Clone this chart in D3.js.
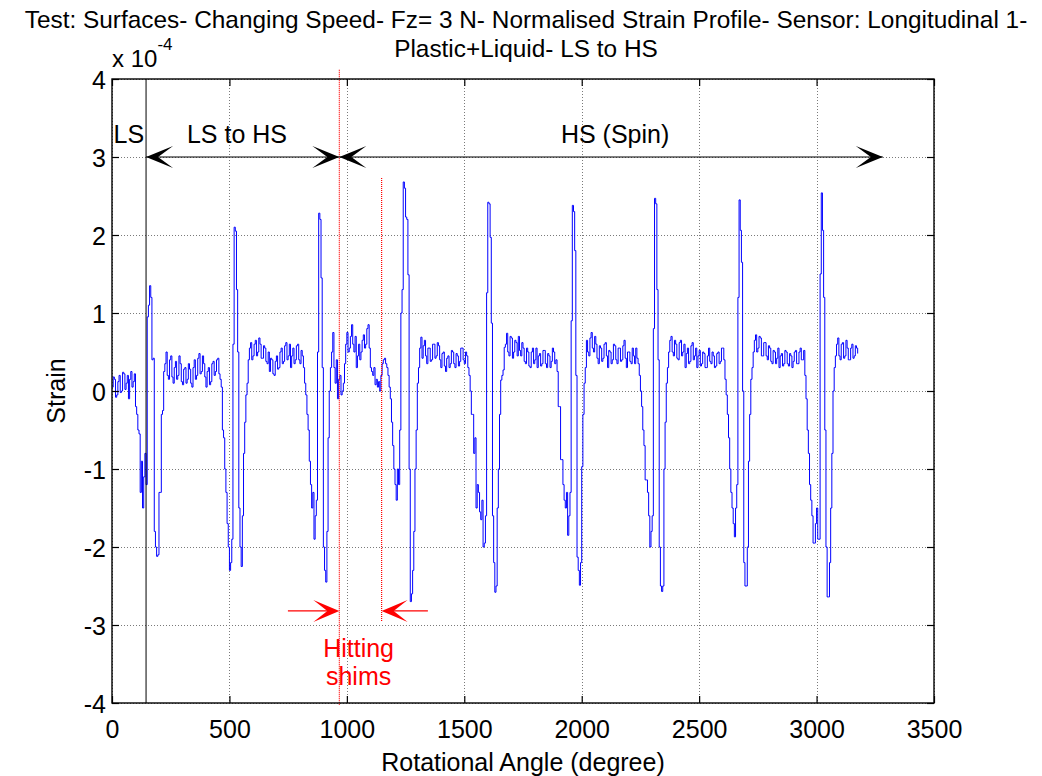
<!DOCTYPE html>
<html>
<head>
<meta charset="utf-8">
<script src="https://cdn.jsdelivr.net/npm/d3@7"></script>
<style>
  html, body { margin: 0; padding: 0; background: #fff; }
  svg { display: block; font-family: "Liberation Sans", Arial, sans-serif; }
</style>
</head>
<body>
<svg id="chart" width="1042" height="776"></svg>
<script>
// Sensor strain samples (x 10^-4), one every 5 degrees of rotation (one row = 100 degrees)
const sampleStepDeg = 5;
const strainValues = [
  0.05,0.18, 0.15,-0.08, -0.05,0.12, 0.2,-0.02, 0.0,0.24, 0.22,0.02, 0.1,0.2, -0.1,0.15, 0.25,0.05, 0.12,0.22,
  -0.2,-0.3, -0.5,-0.55, -1.3,-0.9, -1.5,-1.1, -0.8,-1.2, 0.95,1.1, 1.35,1.2, 0.4,0.42, -1.8,-2.0, -2.12,-2.1,
  -1.3,-1.3, -0.3,-0.25, 0.25,0.35, 0.5,0.2, 0.15,0.4, 0.45,0.18, 0.1,0.3, 0.38,0.15, 0.2,0.45, 0.35,0.12,
  0.08,0.28, 0.3,0.1, 0.15,0.35, 0.28,0.1, 0.05,0.3, 0.4,0.15, 0.2,0.42, 0.48,0.22, 0.25,0.45, 0.35,0.18,
  0.05,0.25, 0.3,0.08, 0.12,0.35, 0.38,0.2, 0.25,0.4, 0.42,0.22, 0.15,0.05, -0.5,-0.6, -1.0,-1.3, -1.7,-2.0,
  -2.3,-2.2, -1.9,0.6, 2.1,2.05, 1.3,0.5, -1.5,-2.0, -2.25,-1.6, -0.8,-0.4, -0.05,0.1, 0.4,0.55, 0.62,0.4,
  0.45,0.6, 0.65,0.45, 0.5,0.68, 0.6,0.42, 0.42,0.58, 0.55,0.38, 0.35,0.5, 0.25,0.42, 0.4,0.22, 0.2,0.38,
  0.45,0.28, 0.3,0.5, 0.55,0.35, 0.38,0.58, 0.62,0.4, 0.45,0.6, 0.3,0.45, 0.55,0.35, 0.4,0.58, 0.6,0.4,
  0.35,0.52, 0.45,0.3, 0.1,-0.05, -0.3,-0.5, -0.9,-1.2, -1.5,-1.3, -1.9,-1.6, -1.4,0.5, 2.28,2.2, 1.45,0.3,
  -2.0,-2.3, -2.45,-1.8, -0.6,0.0, 0.3,0.5, 0.75,0.3, 0.1,0.4, -0.1,0.15, 0.2,-0.05, 0.0,0.1, 0.35,0.6,
  0.75,0.5, 0.55,0.7, 0.85,0.6, 0.5,0.7, 0.3,0.45, 0.6,0.4, 0.5,0.65, 0.72,0.55, 0.6,0.8, 0.85,0.55,
  0.3,0.25, 0.2,0.3, 0.08,0.15, 0.05,0.12, 0.0,0.2, 0.35,0.4, 0.42,0.35, 0.3,0.2, 0.05,-0.1, -0.4,-0.7,
  -1.0,-1.2, -1.4,-1.0, -1.2,-0.5, 1.0,1.3, 2.68,2.6, 2.23,2.2, 1.49,-1.0, -2.7,-2.6, -2.3,-1.8, -1.0,-0.5,
  0.1,0.3, 0.55,0.69, 0.42,0.58, 0.65,0.45, 0.35,0.55, 0.55,0.38, 0.4,0.6, 0.6,0.42, 0.45,0.62, 0.58,0.4,
  0.3,0.48, 0.5,0.32, 0.25,0.42, 0.45,0.3, 0.35,0.52, 0.5,0.35, 0.3,0.48, 0.45,0.32, 0.38,0.55, 0.55,0.4,
  0.35,0.5, 0.45,0.3, 0.2,0.0, -0.3,-0.3, -0.8,-0.6, -1.5,-1.2, -1.3,-1.55, -1.65,-1.4, -2.0,-1.95, -1.6,1.26,
  2.42,2.4, 1.97,0.87, -1.6,-2.2, -2.58,-2.5, -1.5,-1.0, -0.3,0.14, 0.2,0.27, 0.56,0.6, 0.74,0.5, 0.45,0.7,
  0.68,0.42, 0.5,0.65, 0.62,0.45, 0.7,0.52, 0.45,0.62, 0.55,0.38, 0.35,0.55, 0.5,0.32, 0.3,0.5, 0.55,0.35,
  0.4,0.55, 0.3,0.45, 0.48,0.32, 0.35,0.52, 0.52,0.35, 0.3,0.48, 0.45,0.3, 0.38,0.55, 0.5,0.35, 0.4,0.25,
  -0.2,-0.2, -0.88,-0.88, -1.2,-1.4, -1.5,-1.3, -1.85,-1.6, -1.3,0.9, 2.38,2.3, 1.8,0.2, -2.13,-2.3, -2.49,-2.2,
  -0.97,-0.3, 0.1,0.3, 0.65,0.5, 0.45,0.68, 0.75,0.55, 0.5,0.7, 0.6,0.42, 0.35,0.58, 0.55,0.38, 0.42,0.6,
  0.62,0.45, 0.3,0.52, 0.5,0.35, 0.4,0.6, 0.58,0.4, 0.35,0.55, 0.55,0.38, 0.4,0.58, 0.65,0.42, 0.3,0.5,
  0.5,0.38, 0.35,0.55, 0.45,0.35, 0.55,0.42, 0.35,0.2, 0.0,-0.2, -0.5,-0.7, -1.14,-1.14, -1.3,-1.6, -2.0,-1.8,
  -1.6,0.8, 2.47,2.4, 1.3,0.4, -2.0,-2.5, -2.57,-2.5, -1.0,-0.4, 0.1,0.3, 0.5,0.65, 0.7,0.5, 0.45,0.65,
  0.6,0.42, 0.4,0.62, 0.65,0.45, 0.5,0.6, 0.3,0.48, 0.55,0.35, 0.38,0.58, 0.62,0.4, 0.45,0.55, 0.3,0.45,
  0.52,0.32, 0.35,0.5, 0.48,0.3, 0.3,0.45, 0.55,0.38, 0.35,0.5, 0.45,0.3, 0.32,0.48, 0.5,0.35, 0.38,0.55,
  0.55,0.4, 0.15,-0.05, -0.3,-0.6, -1.0,-1.3, -1.5,-1.7, -1.87,-1.5, -1.2,1.2, 2.45,2.06, 1.65,0.0, -2.2,-2.5,
  -2.5,-2.0, -0.9,-0.3, 0.15,0.3, 0.5,0.65, 0.72,0.5, 0.55,0.7, 0.68,0.45, 0.45,0.62, 0.62,0.45, 0.4,0.58,
  0.55,0.38, 0.35,0.52, 0.5,0.35, 0.42,0.55, 0.3,0.45, 0.48,0.32, 0.35,0.52, 0.5,0.35, 0.32,0.48, 0.45,0.3,
  0.38,0.5, 0.52,0.35, 0.35,0.5, 0.55,0.4, 0.4,0.52, 0.2,-0.1, -0.5,-0.8, -1.2,-1.4, -1.6,-1.95, -1.95,-1.7,
  -1.5,-1.9, -1.9,1.5, 2.54,2.06, 1.2,-0.5, -2.0,-2.64, -2.64,-2.2, -1.5,-0.8, 0.0,0.3, 0.45,0.6, 0.68,0.45,
  0.4,0.6, 0.62,0.42, 0.45,0.65, 0.55,0.4, 0.4,0.55, 0.6,0.42, 0.45,0.58, 0.55,0.48
];

// Axis ticks
const xTicks = [0, 500, 1000, 1500, 2000, 2500, 3000, 3500];
const yTicks = [-4, -3, -2, -1, 0, 1, 2, 3, 4];

// Phase markers and annotations (data units)
const phaseBoundaryAngle = 145;          // end of low speed
const shimStartAngle = 968;              // red marker 1
const shimEndAngle = 1148;               // red marker 2
const phaseArrowLevel = 3;
const phaseArrows = [
  { from: phaseBoundaryAngle, to: shimStartAngle },
  { from: shimStartAngle, to: 3282 }
];
const phaseLabels = [
  { text: "LS", angle: 72, level: 3.18 },
  { text: "LS to HS", angle: 532, level: 3.18 },
  { text: "HS (Spin)", angle: 2142, level: 3.18 }
];
const shimArrowLevel = -2.82;
const shimArrows = [
  { from: 749, to: shimStartAngle },
  { from: 1345, to: shimEndAngle }
];
const shimLabel = { lines: ["Hitting", "shims"], angle: 1050, levels: [-3.41, -3.77] };

const titleLines = [
  "Test: Surfaces- Changing Speed- Fz= 3 N- Normalised Strain Profile- Sensor: Longitudinal 1-",
  "Plastic+Liquid- LS to HS"
];

const svg = d3.select("#chart");
const plotLeft = 112, plotRight = 934, plotTop = 79, plotBottom = 703;
const x = d3.scaleLinear().domain([0, 3500]).range([plotLeft, plotRight]);
const y = d3.scaleLinear().domain([-4, 4]).range([plotBottom, plotTop]);
const fontSize = 25;
const plainNumber = d => String(d);

// Grid
const grid = svg.append("g").attr("stroke", "#7a7a7a").attr("stroke-width", 1)
  .attr("stroke-dasharray", "1,2").attr("shape-rendering", "crispEdges");
grid.selectAll("line.gx").data(xTicks).join("line").attr("class", "gx")
  .attr("x1", d => Math.round(x(d)) + 0.5).attr("x2", d => Math.round(x(d)) + 0.5)
  .attr("y1", plotTop).attr("y2", plotBottom);
grid.selectAll("line.gy").data(yTicks).join("line").attr("class", "gy")
  .attr("y1", d => Math.round(y(d)) + 0.5).attr("y2", d => Math.round(y(d)) + 0.5)
  .attr("x1", plotLeft).attr("x2", plotRight);

// Strain trace
const samples = strainValues.map((v, i) => ({ angle: i * sampleStepDeg, value: v }));
const line = d3.line().x(d => x(d.angle)).y(d => y(d.value)).curve(d3.curveStepAfter);
svg.append("path").datum(samples)
  .attr("fill", "none").attr("stroke", "#0000ff").attr("stroke-width", 1)
  .attr("d", line);

// Low-speed boundary marker
svg.append("line")
  .attr("x1", x(phaseBoundaryAngle)).attr("x2", x(phaseBoundaryAngle))
  .attr("y1", plotTop).attr("y2", plotBottom)
  .attr("stroke", "#000").attr("stroke-width", 1);

// Shim markers
svg.append("line")
  .attr("x1", x(shimStartAngle)).attr("x2", x(shimStartAngle))
  .attr("y1", y(4.12)).attr("y2", y(-4.03))
  .attr("stroke", "#ff0000").attr("stroke-width", 1.2).attr("stroke-dasharray", "1,1");
svg.append("line")
  .attr("x1", x(shimEndAngle)).attr("x2", x(shimEndAngle))
  .attr("y1", y(2.73)).attr("y2", y(-2.96))
  .attr("stroke", "#ff0000").attr("stroke-width", 1.2).attr("stroke-dasharray", "1,1");

// Arrow head with a notched back, tip at (tx, ty), pointing along dir (+1 right, -1 left)
function arrowHead(tx, ty, dir, len, half, notch) {
  return `M${tx},${ty} L${tx - dir * len},${ty - half} L${tx - dir * notch},${ty} L${tx - dir * len},${ty + half} Z`;
}

// Phase arrows (double-headed)
const pa = svg.append("g");
phaseArrows.forEach(a => {
  const x1 = x(a.from), x2 = x(a.to), yy = y(phaseArrowLevel);
  pa.append("line").attr("x1", x1).attr("x2", x2).attr("y1", yy).attr("y2", yy)
    .attr("stroke", "#000").attr("stroke-width", 1.2);
  pa.append("path").attr("d", arrowHead(x1, yy, -1, 27, 11, 12)).attr("fill", "#000");
  pa.append("path").attr("d", arrowHead(x2, yy, 1, 27, 11, 12)).attr("fill", "#000");
});
svg.selectAll("text.phase").data(phaseLabels).join("text").attr("class", "phase")
  .attr("x", d => x(d.angle)).attr("y", d => y(d.level))
  .attr("text-anchor", "middle").attr("font-size", 25).attr("fill", "#000")
  .text(d => d.text);

// Shim arrows
const sa = svg.append("g");
shimArrows.forEach(a => {
  const x1 = x(a.from), x2 = x(a.to), yy = y(shimArrowLevel);
  const dir = x2 > x1 ? 1 : -1;
  sa.append("line").attr("x1", x1).attr("x2", x2 - dir * 10).attr("y1", yy).attr("y2", yy)
    .attr("stroke", "#ff0000").attr("stroke-width", 1.2);
  sa.append("path").attr("d", arrowHead(x2, yy, dir, 26, 11, 12)).attr("fill", "#ff0000");
});
svg.selectAll("text.shim").data(shimLabel.lines).join("text").attr("class", "shim")
  .attr("x", x(shimLabel.angle)).attr("y", (d, i) => y(shimLabel.levels[i]))
  .attr("text-anchor", "middle").attr("font-size", 25).attr("fill", "#ff0000")
  .text(d => d);

// Axes with inward ticks on all four sides
const tickLen = 7;
const axB = svg.append("g").attr("transform", `translate(0,${plotBottom})`)
  .call(d3.axisBottom(x).tickValues(xTicks).tickFormat(plainNumber)
    .tickSizeInner(-tickLen).tickSizeOuter(0).tickPadding(17));
const axT = svg.append("g").attr("transform", `translate(0,${plotTop})`)
  .call(d3.axisTop(x).tickValues(xTicks).tickSizeInner(-tickLen).tickSizeOuter(0).tickFormat(""));
const axL = svg.append("g").attr("transform", `translate(${plotLeft},0)`)
  .call(d3.axisLeft(y).tickValues(yTicks).tickFormat(plainNumber)
    .tickSizeInner(-tickLen).tickSizeOuter(0).tickPadding(6));
const axR = svg.append("g").attr("transform", `translate(${plotRight},0)`)
  .call(d3.axisRight(y).tickValues(yTicks).tickSizeInner(-tickLen).tickSizeOuter(0).tickFormat(""));
[axB, axT, axL, axR].forEach(g => {
  g.select(".domain").remove();
  g.selectAll("line").attr("stroke", "#000").attr("stroke-width", 1.2);
  g.selectAll("text").attr("font-size", fontSize).attr("fill", "#000")
    .attr("font-family", "'Liberation Sans', Arial, sans-serif");
});
axL.selectAll("text").attr("dy", "0.38em");

// Box
svg.append("rect").attr("x", plotLeft).attr("y", plotTop)
  .attr("width", plotRight - plotLeft).attr("height", plotBottom - plotTop)
  .attr("fill", "none").attr("stroke", "#000").attr("stroke-width", 1.4);

// Exponent label
const expo = svg.append("text").attr("x", plotLeft).attr("y", 67)
  .attr("font-size", 24).attr("fill", "#000");
expo.append("tspan").text("x 10");
expo.append("tspan").attr("dy", -17).attr("font-size", 17).text("-4");

// Axis titles
svg.append("text").attr("x", (plotLeft + plotRight) / 2).attr("y", 771)
  .attr("text-anchor", "middle").attr("font-size", fontSize).text("Rotational Angle (degree)");
svg.append("text").attr("transform", `translate(65,${(plotTop + plotBottom) / 2}) rotate(-90)`)
  .attr("text-anchor", "middle").attr("font-size", fontSize).text("Strain");

// Title
svg.selectAll("text.title").data(titleLines).join("text").attr("class", "title")
  .attr("x", 526).attr("y", (d, i) => 28 + i * 29)
  .attr("text-anchor", "middle").attr("font-size", 24.4).attr("fill", "#000")
  .text(d => d);
</script>
</body>
</html>
